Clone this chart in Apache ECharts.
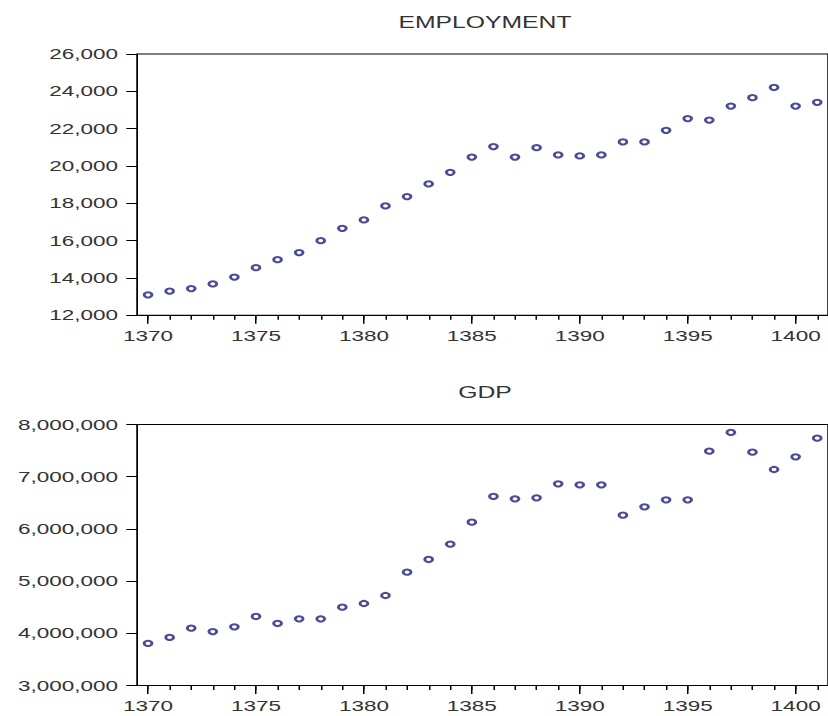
<!DOCTYPE html>
<html>
<head>
<meta charset="utf-8">
<script src="https://cdn.jsdelivr.net/npm/echarts@6/dist/echarts.min.js"></script>
<style>
  html, body { margin: 0; padding: 0; background: #fff; overflow: hidden; }
  #chart { width: 552px; height: 716px; transform: scaleX(1.5); transform-origin: 0 0; }
</style>
</head>
<body>
<div id="chart"></div>
<script>
// ---- data ----
var years = [1370, 1371, 1372, 1373, 1374, 1375, 1376, 1377, 1378, 1379,
             1380, 1381, 1382, 1383, 1384, 1385, 1386, 1387, 1388, 1389,
             1390, 1391, 1392, 1393, 1394, 1395, 1396, 1397, 1398, 1399,
             1400, 1401];
var employment = [13100, 13290, 13430, 13680, 14050, 14550, 14980, 15360, 16000, 16660,
                  17110, 17860, 18360, 19040, 19660, 20480, 21040, 20480, 20980, 20590,
                  20540, 20590, 21290, 21290, 21910, 22540, 22460, 23210, 23660, 24210,
                  23210, 23410];
var gdp = [3805000, 3920000, 4098000, 4034000, 4124000, 4322000, 4188000, 4277000, 4277000, 4501000,
           4571000, 4724000, 5171000, 5414000, 5708000, 6129000, 6621000, 6576000, 6595000, 6863000,
           6844000, 6844000, 6263000, 6423000, 6557000, 6557000, 7489000, 7847000, 7470000, 7138000,
           7381000, 7738000];
var majorYears = [1370, 1375, 1380, 1385, 1390, 1395, 1400];
var titles = ['EMPLOYMENT', 'GDP'];

// ---- chart ----
var FONT = '"Liberation Sans", Arial, sans-serif';
var TXT = '#333333';
var MARK = '#1e2078';
var XMIN = 1369.5, XMAX = 1401.5;

var grids = [
  { left: 91.5, right: -2.6, top: 54, height: 261.3 },
  { left: 91.5, right: -2.6, top: 424.5, height: 261 }
];

function pairs(vals) { return years.map(function (y, i) { return [y, vals[i]]; }); }

var xAxes = [], yAxes = [], series = [];
[0, 1].forEach(function (g) {
  grids[g].show = true;
  grids[g].borderColor = '#000';
  grids[g].borderWidth = 1;
  grids[g].containLabel = false;
  // minor ticks (every year) + axis line
  xAxes.push({
    type: 'value', gridIndex: g, position: 'bottom', min: XMIN, max: XMAX,
    axisLine: { show: true, onZero: false, lineStyle: { color: '#000', width: 1 } },
    axisTick: { show: true, customValues: years, length: 4.5, lineStyle: { color: '#000', width: 1 } },
    axisLabel: { show: false },
    splitLine: { show: false }
  });
  // major ticks + labels
  xAxes.push({
    type: 'value', gridIndex: g, position: 'bottom', min: XMIN, max: XMAX,
    axisLine: { show: false, onZero: false },
    axisTick: { show: true, customValues: majorYears, length: 8.5, lineStyle: { color: '#000', width: 1 } },
    axisLabel: { show: true, customValues: majorYears, margin: 13, fontSize: 15, fontFamily: FONT, color: TXT,
                 formatter: function (v) { return String(v); } },
    splitLine: { show: false }
  });
  yAxes.push(g === 0 ? {
    type: 'value', gridIndex: g, position: 'left', min: 12000, max: 26000, interval: 2000,
    axisLine: { show: true, onZero: false, lineStyle: { color: '#000', width: 1 } },
    axisTick: { show: true, length: 7.3, lineStyle: { color: '#000' } },
    axisLabel: { margin: 12.8, fontSize: 15, fontFamily: FONT, color: TXT,
                 formatter: function (v) { return v.toLocaleString('en-US'); } },
    splitLine: { show: false }
  } : {
    type: 'value', gridIndex: g, position: 'left', min: 3000000, max: 8000000, interval: 1000000,
    axisLine: { show: true, onZero: false, lineStyle: { color: '#000', width: 1 } },
    axisTick: { show: true, length: 7.3, lineStyle: { color: '#000' } },
    axisLabel: { margin: 12.8, fontSize: 15, fontFamily: FONT, color: TXT,
                 formatter: function (v) { return v.toLocaleString('en-US'); } },
    splitLine: { show: false }
  });
  series.push({
    type: 'scatter', name: titles[g],
    xAxisIndex: g * 2, yAxisIndex: g,
    data: pairs(g === 0 ? employment : gdp),
    symbol: 'emptyCircle', symbolSize: 5.2,
    itemStyle: { color: MARK, borderColor: MARK, borderWidth: 1 },
    emphasis: { disabled: true },
    clip: false,
    animation: false
  });
});

var chart = echarts.init(document.getElementById('chart'), null, { renderer: 'svg' });
chart.setOption({
  animation: false,
  backgroundColor: '#fff',
  grid: grids,
  xAxis: xAxes,
  yAxis: yAxes,
  series: series,
  graphic: [
    { type: 'text', x: 323.3, y: 22, silent: true,
      style: { text: titles[0], align: 'center', verticalAlign: 'middle', textAlign: 'center', textVerticalAlign: 'middle',
               fontSize: 16.5, fontFamily: FONT, fill: TXT } },
    { type: 'text', x: 323.3, y: 392, silent: true,
      style: { text: titles[1], align: 'center', verticalAlign: 'middle', textAlign: 'center', textVerticalAlign: 'middle',
               fontSize: 16.5, fontFamily: FONT, fill: TXT } }
  ]
});
</script>
</body>
</html>
